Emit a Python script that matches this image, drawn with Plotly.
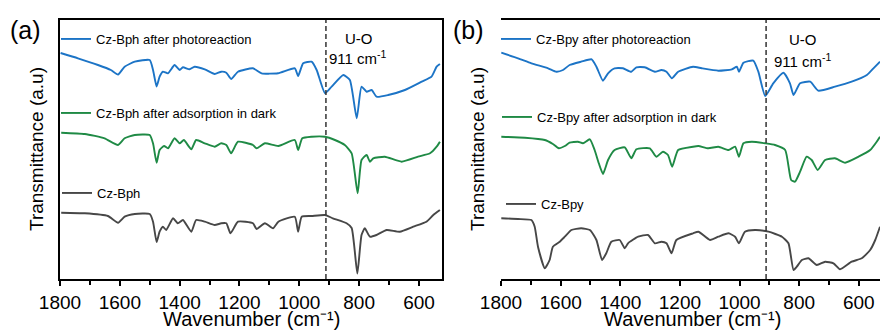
import plotly.graph_objects as go

# ---------------- FTIR spectra, panel (a): Cz-Bph ----------------
bph_photo_wn = [1798, 1740, 1673, 1630, 1606, 1584, 1550, 1500, 1489, 1477, 1467, 1456, 1439, 1417, 1400,
                1389, 1367, 1350, 1316, 1283, 1261, 1244, 1228, 1205, 1155, 1126, 1071, 1015, 1004, 987,
                959, 942, 914, 892, 853, 831, 808, 792, 775, 758, 742, 703, 647, 591, 558, 541, 530]
bph_photo_t = [226, 220.7, 214, 209, 204.5, 212.3, 217.3, 219, 209, 192.5, 202.3, 207.3, 205.7, 214, 209,
               211.7, 209.7, 212.3, 209.7, 205, 207.3, 206.3, 200, 207.3, 210.7, 205.7, 205.7, 210.7, 203, 215.7,
               217.3, 209, 185.7, 192.3, 204, 199, 160.7, 192.3, 187.3, 189, 182.3, 184, 189, 197.3, 202.3, 212.3, 215]

bph_dark_wn = [1796, 1717, 1651, 1606, 1584, 1550, 1500, 1489, 1477, 1467, 1452, 1439, 1417, 1400, 1386,
               1361, 1345, 1316, 1283, 1261, 1244, 1228, 1205, 1155, 1143, 1115, 1070, 1015, 1004, 990,
               959, 914, 881, 848, 825, 805, 792, 775, 764, 753, 714, 658, 603, 563, 541, 530]
bph_dark_t = [146.3, 145, 140.7, 134, 140.7, 144, 144, 135.7, 116.3, 129, 133, 130.7, 140.7, 135.7, 139,
              129.7, 139, 135.7, 132.3, 135.7, 134, 125.7, 137.3, 134, 130.7, 135.7, 133, 139, 129, 140.7,
              142.3, 142.3, 139, 134, 125.7, 85.7, 119, 124, 117.3, 120.7, 122.3, 117.3, 122.3, 125.7, 132.3, 137.3]

bph_wn = [1796, 1717, 1640, 1606, 1584, 1550, 1500, 1489, 1477, 1467, 1456, 1445, 1422, 1406, 1389,
          1361, 1345, 1316, 1283, 1261, 1244, 1230, 1205, 1155, 1143, 1115, 1088, 1070, 1015, 1004,
          992, 959, 914, 888, 842, 825, 806, 792, 781, 764, 742, 708, 664, 619, 575, 552, 530]
bph_t = [66.3, 65.7, 63, 56.3, 62.3, 65, 65, 57.3, 37, 47.3, 52.3, 49, 60.7, 55.7, 59,
         47.3, 59, 57.3, 54, 55.7, 55.7, 45.7, 57.3, 55.7, 50, 55.7, 50.7, 57.3, 62.3, 47.3,
         62.3, 63, 64, 60.7, 55.7, 51, 5.5, 44, 50.7, 42.3, 44, 49, 47.3, 52.3, 57.3, 64, 69]

# ---------------- FTIR spectra, panel (b): Cz-Bpy ----------------
bpy_photo_wn = [1799, 1743, 1698, 1642, 1614, 1592, 1570, 1531, 1496, 1480, 1458, 1441, 1419, 1391, 1363,
                1346, 1318, 1284, 1262, 1245, 1227, 1206, 1156, 1127, 1071, 1026, 1009, 1002, 987, 954,
                937, 914, 887, 853, 831, 819, 797, 763, 736, 680, 624, 573, 551, 529]
bpy_photo_t = [226.3, 220.7, 215.7, 210.7, 207.3, 209, 214, 217.3, 219.7, 212.3, 198.3, 205.7, 210.7, 210.7, 207.3,
               211.7, 211.7, 207.3, 209, 207.3, 200.7, 207.3, 212.3, 210.7, 208.3, 209.7, 212.3, 207.3, 216.3, 218.3,
               207.3, 183, 195.7, 206.3, 195.7, 184, 195.7, 197.3, 188.3, 192.3, 197.3, 204, 210.7, 217.3]

bpy_dark_wn = [1799, 1720, 1653, 1626, 1606, 1586, 1570, 1542, 1525, 1502, 1486, 1472, 1458, 1441, 1419,
               1385, 1363, 1346, 1301, 1279, 1257, 1240, 1226, 1206, 1156, 1138, 1105, 1071, 1037, 1015,
               1002, 987, 959, 914, 881, 847, 827, 814, 797, 775, 758, 738, 713, 680, 646, 601, 562, 540, 529]
bpy_dark_t = [142.3, 141.3, 139, 135, 130.7, 133, 136.3, 137.3, 135.7, 139.7, 129, 115.7, 105, 119, 129,
              131.7, 120.7, 129.7, 130.7, 122.3, 127.3, 124, 112.3, 129, 132.3, 133, 130.7, 132.3, 129, 132.3,
              122.3, 135.7, 137.3, 135.7, 134, 129, 99, 97.3, 107.3, 122.3, 119, 109, 119, 120.7, 116.3, 122.3, 129, 137.3, 142.3]

bpy_wn = [1799, 1743, 1698, 1687, 1676, 1653, 1637, 1626, 1603, 1586, 1564, 1531, 1502, 1480, 1461,
          1447, 1430, 1402, 1385, 1374, 1340, 1307, 1284, 1262, 1245, 1228, 1212, 1156, 1138, 1099,
          1071, 1037, 1015, 1002, 982, 948, 903, 858, 836, 819, 808, 791, 769, 741, 713, 685, 663,
          624, 590, 562, 545, 529]
bpy_t = [60.7, 60, 59, 52.3, 32.3, 10.7, 19, 32.3, 37.3, 42.3, 49, 50.7, 49, 39, 19,
         25.7, 37.3, 39, 30.7, 35.7, 42.3, 44, 35.7, 37.3, 35.7, 25.7, 39, 45.7, 47.3, 39,
         42.3, 45.7, 42.3, 35.7, 47.3, 49, 47.3, 42.3, 35.7, 9, 12.3, 19, 20.7, 14, 17.3, 15.7, 9.7,
         17.3, 20.7, 29, 39, 52.3]

ticks_major = [1800, 1600, 1400, 1200, 1000, 800, 600]
ticks_minor = [1700, 1500, 1300, 1100, 900, 700]
uo_band = 911

BLUE = "#1c74c6"
GREEN = "#1f8a45"
GRAY = "#474747"
FONT = "Liberation Sans, Arial, sans-serif"

fig = go.Figure()

panels = [
    ("x", "y", [
        (bph_photo_wn, bph_photo_t, "Cz-Bph after photoreaction", BLUE, "legend"),
        (bph_dark_wn, bph_dark_t, "Cz-Bph after adsorption in dark", GREEN, "legend2"),
        (bph_wn, bph_t, "Cz-Bph", GRAY, "legend3"),
    ]),
    ("x2", "y2", [
        (bpy_photo_wn, bpy_photo_t, "Cz-Bpy after photoreaction", BLUE, "legend4"),
        (bpy_dark_wn, bpy_dark_t, "Cz-Bpy after adsorption in dark", GREEN, "legend5"),
        (bpy_wn, bpy_t, "Cz-Bpy", GRAY, "legend6"),
    ]),
]

for xa, ya, series in panels:
    for wn, t, name, color, lg in series:
        fig.add_trace(go.Scatter(
            x=wn, y=t, mode="lines", name=name, legend=lg,
            line=dict(color=color, width=1.9, shape="spline", smoothing=0.5),
            xaxis=xa, yaxis=ya,
        ))
    # dashed marker of the U-O stretching band
    fig.add_trace(go.Scatter(
        x=[uo_band, uo_band], y=[0, 259], mode="lines", showlegend=False,
        line=dict(color="#333333", width=1.5, dash="5px,3px"),
        xaxis=xa, yaxis=ya, hoverinfo="skip",
    ))

W, H = 880, 331
ytop, ybot = 20, 279
ydom = [1 - ybot / H, 1 - ytop / H]

xaxis_common = dict(
    autorange=False, automargin=False, showline=True, linecolor="black", linewidth=1.8, mirror=True,
    showgrid=False, zeroline=False, ticks="outside", ticklen=5, tickwidth=1.5, tickcolor="black",
    tickvals=ticks_major, tickfont=dict(family=FONT, size=19, color="black"),
    minor=dict(tickvals=ticks_minor, ticks="outside", ticklen=4, tickwidth=1.5, tickcolor="black"),
)
yaxis_common = dict(
    range=[0, 259], autorange=False, automargin=False, showline=True, linecolor="black", linewidth=1.8,
    showgrid=False, zeroline=False, showticklabels=False, ticks="",
)

fig.update_layout(
    width=W, height=H, margin=dict(l=0, r=0, t=0, b=0, autoexpand=False),
    paper_bgcolor="white", plot_bgcolor="white",
    font=dict(family=FONT, color="black"),
    xaxis=dict(xaxis_common, domain=[60 / W, 442 / W], range=[1800, 523]),
    yaxis=dict(yaxis_common, domain=ydom, mirror=True),
    xaxis2=dict(xaxis_common, domain=[501 / W, 1.0], range=[1800, 529]),
    yaxis2=dict(yaxis_common, domain=ydom, mirror=False),
)

# one small legend next to each curve
legend_pos = {
    "legend": (56, 39), "legend2": (56, 113), "legend3": (57, 193),
    "legend4": (496, 39), "legend5": (497, 117), "legend6": (501, 204),
}
for key, (px, py) in legend_pos.items():
    fig.update_layout({key: dict(
        x=px / W, y=1 - py / H, xanchor="left", yanchor="middle",
        bgcolor="rgba(0,0,0,0)", borderwidth=0, itemwidth=30,
        font=dict(family=FONT, size=13, color="black"),
        tracegroupgap=0, itemclick=False, itemdoubleclick=False,
    )})

annotations = [
    dict(text="(a)", x=25, y=30, size=25),
    dict(text="(b)", x=468, y=30, size=25),
    dict(text="U-O", x=359, y=38, size=15),
    dict(text="911 cm<sup>-1</sup>", x=358, y=57, size=15),
    dict(text="U-O", x=803, y=39, size=15),
    dict(text="911 cm<sup>-1</sup>", x=803, y=60, size=15),
    dict(text="Transmittance (a.u)", x=36, y=149, size=19, angle=-90),
    dict(text="Transmittance (a.u)", x=477, y=149, size=19, angle=-90),
]
for a in annotations:
    fig.add_annotation(
        text=a["text"], x=a["x"] / W, y=1 - a["y"] / H, xref="paper", yref="paper",
        xanchor="center", yanchor="middle", showarrow=False, textangle=a.get("angle", 0),
        font=dict(family=FONT, size=a["size"], color="black"),
    )

# x-axis titles sit on the bottom edge of the figure
for cx in (251, 692):
    fig.add_annotation(
        text="Wavenumber (cm⁻¹)", x=cx / W, y=0, xref="paper", yref="paper",
        xanchor="center", yanchor="bottom", showarrow=False, borderpad=0,
        font=dict(family=FONT, size=20, color="black"),
    )

fig.write_html("out.html")
